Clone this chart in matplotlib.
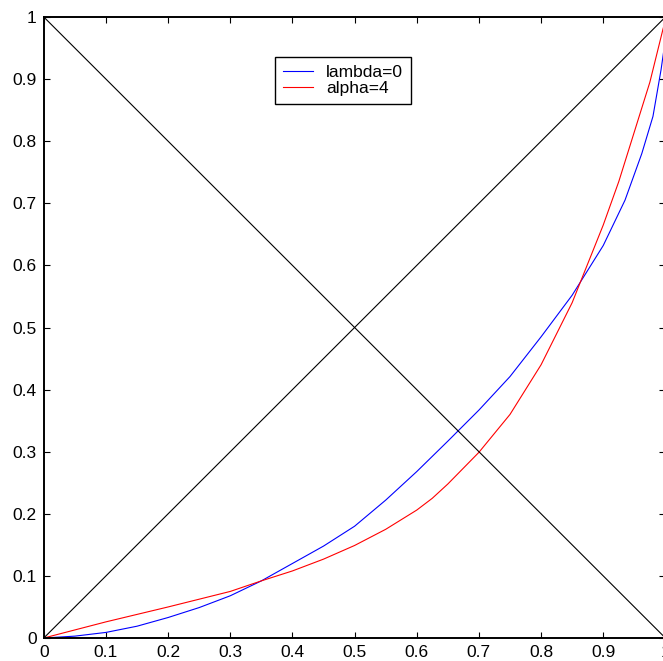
import matplotlib
matplotlib.use('Agg')
import matplotlib.pyplot as plt

plt.rcParams['font.family'] = ['Liberation Sans', 'DejaVu Sans']

# blue curve (lambda=0)
x_lam = [0, 0.05, 0.1, 0.15, 0.2, 0.25, 0.3, 0.35, 0.4, 0.45, 0.5, 0.55, 0.6,
         0.65, 0.7, 0.75, 0.8, 0.85, 0.9, 0.935, 0.962, 0.98, 0.993, 0.998]
y_lam = [0, 0.003, 0.009, 0.019, 0.033, 0.049, 0.068, 0.092, 0.12, 0.148, 0.18,
         0.222, 0.268, 0.317, 0.367, 0.421, 0.485, 0.552, 0.632, 0.705, 0.78,
         0.84, 0.915, 0.95]

# red curve (alpha=4)
x_alp = [0, 0.1, 0.2, 0.3, 0.35, 0.4, 0.45, 0.5, 0.55, 0.6, 0.625, 0.65, 0.7,
         0.75, 0.8, 0.85, 0.9, 0.925, 0.95, 0.975, 0.996, 1.0]
y_alp = [0, 0.026, 0.050, 0.075, 0.092, 0.108, 0.127, 0.149, 0.175, 0.206, 0.225,
         0.248, 0.299, 0.36, 0.44, 0.54, 0.665, 0.735, 0.815, 0.895, 0.98, 0.995]

# the two diagonals
diag_x = [0, 1]
diag_up = [0, 1]
diag_down = [1, 0]

ticks = [0, 0.1, 0.2, 0.3, 0.4, 0.5, 0.6, 0.7, 0.8, 0.9, 1]
tick_labels = ['0', '0.1', '0.2', '0.3', '0.4', '0.5', '0.6', '0.7', '0.8', '0.9', '1']

fig = plt.figure(figsize=(6.63, 6.61), dpi=100)
ax = fig.add_axes([43.8 / 663, 23 / 661, 621.6 / 663, 621 / 661])

ax.plot(x_lam, y_lam, color='blue', lw=0.8, label='lambda=0')
ax.plot(x_alp, y_alp, color='red', lw=0.8, label='alpha=4')
ax.plot(diag_x, diag_up, color='black', lw=0.8)
ax.plot(diag_x, diag_down, color='black', lw=0.8)

ax.set_xlim(0, 1)
ax.set_ylim(0, 1)
ax.set_xticks(ticks)
ax.set_xticklabels(tick_labels)
ax.set_yticks(ticks)
ax.set_yticklabels(tick_labels)
ax.tick_params(direction='in', length=4, width=0.8, labelsize=12.5, pad=5,
               top=True, right=True)
for s in ax.spines.values():
    s.set_linewidth(1.4)

leg = ax.legend(loc='upper left', bbox_to_anchor=(0.372, 0.935), fontsize=12.5,
                fancybox=False, edgecolor='black', framealpha=1,
                borderpad=0.45, handletextpad=0.75, handlelength=1.75,
                labelspacing=0.05, borderaxespad=0)
leg.get_frame().set_linewidth(1.0)

fig.savefig('out.png', dpi=100)
